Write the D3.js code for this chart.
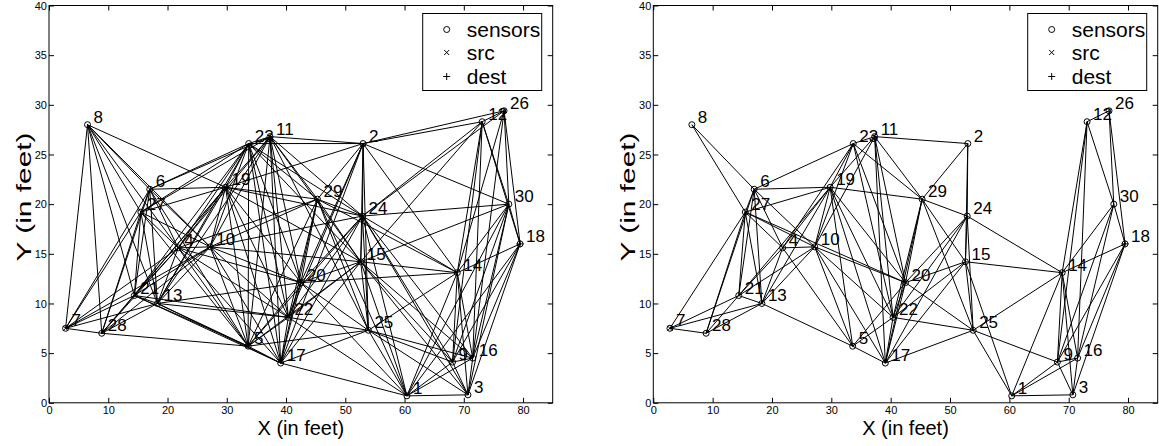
<!DOCTYPE html>
<html>
<head>
<meta charset="utf-8">
<script src="https://cdn.jsdelivr.net/npm/d3@7"></script>
<style>
  body { margin: 0; background: #fff; }
  text { font-family: "Liberation Sans", Arial, sans-serif; }
</style>
</head>
<body>
<svg width="1159" height="446"></svg>
<script>
const nodeIds = d3.range(1, 31);
const nodeX = [60.4, 53.0, 70.7, 21.8, 33.6, 17.0, 2.8, 6.5, 68.1, 27.2,
               37.3, 73.1, 18.3, 68.9, 52.6, 71.5, 39.1, 79.5, 29.8, 42.5,
               14.4, 40.4, 33.7, 52.9, 53.9, 76.8, 15.5, 8.9, 45.3, 77.6];
const nodeY = [0.7, 26.1, 0.8, 15.6, 5.7, 21.5, 7.5, 28.0, 4.1, 15.7,
               26.8, 28.3, 10.0, 13.1, 14.2, 4.5, 4.0, 16.0, 21.7, 12.1,
               10.8, 8.6, 26.1, 18.8, 7.3, 29.4, 19.2, 7.0, 20.5, 20.0];
const xTicks = [0, 10, 20, 30, 40, 50, 60, 70, 80];
const yTicks = [0, 5, 10, 15, 20, 25, 30, 35, 40];
const legendLabels = ['sensors', 'src', 'dest'];
const srcNode = 7;
const destNode = 18;

// links (dense graph)
const edgesLeft = [
  [1,3],[1,9],[1,14],[1,15],[1,16],[1,17],[1,18],[1,20],[1,22],[1,24],[1,25],[1,29],[1,30],
  [2,11],[2,12],[2,14],[2,15],[2,17],[2,19],[2,20],[2,22],[2,23],[2,24],[2,25],[2,26],[2,29],[2,30],
  [3,9],[3,14],[3,15],[3,16],[3,18],[3,24],[3,25],[3,30],
  [4,5],[4,6],[4,7],[4,8],[4,10],[4,11],[4,13],[4,17],[4,19],[4,20],[4,21],[4,22],[4,23],[4,27],[4,28],[4,29],
  [5,6],[5,10],[5,11],[5,13],[5,15],[5,17],[5,19],[5,20],[5,21],[5,22],[5,23],[5,24],[5,25],[5,27],[5,28],[5,29],
  [6,7],[6,8],[6,10],[6,11],[6,13],[6,19],[6,21],[6,23],[6,27],[6,28],
  [7,8],[7,10],[7,13],[7,21],[7,27],[7,28],
  [8,10],[8,13],[8,19],[8,21],[8,27],[8,28],
  [9,12],[9,14],[9,15],[9,16],[9,18],[9,24],[9,25],[9,30],
  [10,11],[10,13],[10,15],[10,17],[10,19],[10,20],[10,21],[10,22],[10,23],[10,24],[10,27],[10,28],[10,29],
  [11,13],[11,15],[11,17],[11,19],[11,20],[11,22],[11,23],[11,24],[11,25],[11,27],[11,29],
  [12,14],[12,15],[12,16],[12,18],[12,24],[12,26],[12,30],
  [13,17],[13,19],[13,20],[13,21],[13,22],[13,23],[13,27],[13,28],
  [14,15],[14,16],[14,18],[14,20],[14,24],[14,25],[14,26],[14,29],[14,30],
  [15,16],[15,17],[15,19],[15,20],[15,22],[15,23],[15,24],[15,25],[15,29],[15,30],
  [16,18],[16,24],[16,25],[16,26],[16,30],
  [17,19],[17,20],[17,21],[17,22],[17,23],[17,24],[17,25],[17,29],
  [18,26],[18,30],
  [19,20],[19,21],[19,22],[19,23],[19,24],[19,27],[19,28],[19,29],
  [20,22],[20,23],[20,24],[20,25],[20,29],
  [21,22],[21,23],[21,27],[21,28],
  [22,23],[22,24],[22,25],[22,29],
  [23,24],[23,27],[23,29],
  [24,25],[24,26],[24,29],[24,30],
  [25,29],[26,30],[27,28]
];

// links (sparser graph)
const edgesRight = [
  [8,6],[8,27],
  [6,27],[6,23],[6,19],[6,4],[6,10],[6,21],[6,13],[6,28],
  [27,19],[27,21],[27,13],[27,28],[27,7],[27,4],[27,10],[27,20],
  [7,28],[7,21],[7,13],
  [28,21],[28,13],
  [21,13],[21,4],[21,10],[21,19],
  [13,4],[13,10],[13,5],[13,19],
  [4,10],[4,19],[4,5],[4,23],
  [10,19],[10,23],[10,11],[10,5],[10,17],[10,22],[10,20],
  [19,23],[19,11],[19,29],[19,5],[19,22],[19,20],[19,17],
  [23,11],[23,29],[23,20],[23,22],
  [11,2],[11,29],[11,20],[11,22],[11,17],
  [2,29],[2,24],[2,15],
  [29,24],[29,20],[29,22],[29,17],[29,15],[29,25],
  [24,15],[24,25],[24,20],[24,22],[24,17],[24,14],
  [15,25],[15,20],[15,22],[15,17],[15,1],[15,14],
  [20,22],[20,17],[20,5],[20,25],
  [22,17],[22,5],[22,25],
  [17,5],[17,25],
  [25,1],[25,9],[25,14],
  [14,1],[14,9],[14,16],[14,3],[14,18],[14,30],[14,12],
  [1,3],[1,9],[1,16],
  [9,16],[9,3],[16,3],
  [12,26],[12,30],[12,9],[12,16],
  [26,30],[26,18],
  [30,18],[30,9],[30,16],
  [18,9],[18,16],[18,3]
];

const svg = d3.select('svg');
const yScale = d3.scaleLinear().domain([0, 40]).range([402.8, 5.5]);

function drawPanel(left, right, edges) {
  const x = d3.scaleLinear().domain([0, 85]).range([left, right]);
  const g = svg.append('g');

  // ticks point inward on all four sides
  g.append('g').attr('transform', `translate(0, ${yScale(0)})`)
    .call(d3.axisBottom(x).tickValues(xTicks).tickSize(-5).tickSizeOuter(0).tickPadding(3))
    .call(a => a.select('.domain').remove())
    .call(a => a.selectAll('text').attr('font-size', 11).attr('font-family', 'Liberation Sans, Arial'));
  g.append('g').attr('transform', `translate(0, ${yScale(40)})`)
    .call(d3.axisTop(x).tickValues(xTicks).tickSize(-5).tickSizeOuter(0).tickFormat(''))
    .call(a => a.select('.domain').remove());
  g.append('g').attr('transform', `translate(${left}, 0)`)
    .call(d3.axisLeft(yScale).tickValues(yTicks).tickSize(-5).tickSizeOuter(0).tickPadding(2))
    .call(a => a.select('.domain').remove())
    .call(a => a.selectAll('text').attr('font-size', 11).attr('font-family', 'Liberation Sans, Arial'));
  g.append('g').attr('transform', `translate(${right}, 0)`)
    .call(d3.axisRight(yScale).tickValues(yTicks).tickSize(-5).tickSizeOuter(0).tickFormat(''))
    .call(a => a.select('.domain').remove());

  g.append('rect')
    .attr('x', left).attr('y', yScale(40))
    .attr('width', right - left).attr('height', yScale(0) - yScale(40))
    .attr('fill', 'none').attr('stroke', '#000');

  g.append('g').selectAll('line').data(edges).join('line')
    .attr('x1', d => x(nodeX[d[0] - 1])).attr('y1', d => yScale(nodeY[d[0] - 1]))
    .attr('x2', d => x(nodeX[d[1] - 1])).attr('y2', d => yScale(nodeY[d[1] - 1]))
    .attr('stroke', '#000').attr('stroke-width', 1);

  g.append('g').selectAll('circle').data(nodeIds).join('circle')
    .attr('cx', d => x(nodeX[d - 1])).attr('cy', d => yScale(nodeY[d - 1]))
    .attr('r', 3).attr('fill', 'none').attr('stroke', '#000');

  // src / dest marks
  const sx = x(nodeX[srcNode - 1]), sy = yScale(nodeY[srcNode - 1]);
  g.append('path').attr('d', `M${sx - 2.5},${sy - 2.5}L${sx + 2.5},${sy + 2.5}M${sx + 2.5},${sy - 2.5}L${sx - 2.5},${sy + 2.5}`)
    .attr('stroke', '#000');
  const dx = x(nodeX[destNode - 1]), dy = yScale(nodeY[destNode - 1]);
  g.append('path').attr('d', `M${dx - 3.5},${dy}H${dx + 3.5}M${dx},${dy - 3.5}V${dy + 3.5}`)
    .attr('stroke', '#000');

  g.append('g').selectAll('text').data(nodeIds).join('text')
    .attr('x', d => x(nodeX[d - 1]) + 6).attr('y', d => yScale(nodeY[d - 1]) - 2)
    .attr('font-size', 17).text(d => d);

  // legend
  const lx = right - 130, ly = yScale(40) + 8;
  const lg = g.append('g').attr('transform', `translate(${lx}, ${ly})`);
  lg.append('rect').attr('width', 119).attr('height', 77)
    .attr('fill', '#fff').attr('stroke', '#000');
  const rowY = [16, 39, 63];
  lg.selectAll('text').data(legendLabels).join('text')
    .attr('x', 44).attr('y', (d, i) => rowY[i] + 7)
    .attr('font-size', 21).text(d => d);
  lg.append('circle').attr('cx', 24).attr('cy', rowY[0]).attr('r', 3)
    .attr('fill', 'none').attr('stroke', '#000');
  lg.append('path').attr('d', `M21.5,${rowY[1] - 2.5}L26.5,${rowY[1] + 2.5}M26.5,${rowY[1] - 2.5}L21.5,${rowY[1] + 2.5}`)
    .attr('stroke', '#000');
  lg.append('path').attr('d', `M20.5,${rowY[2]}H27.5M24,${rowY[2] - 3.5}V${rowY[2] + 3.5}`)
    .attr('stroke', '#000');

  g.append('text').attr('x', (left + right) / 2).attr('y', 435)
    .attr('text-anchor', 'middle').attr('font-size', 20).text('X (in feet)');
  g.append('text')
    .attr('transform', `translate(${left - 18}, 197) rotate(-90) scale(1.3, 0.85)`)
    .attr('text-anchor', 'middle').attr('font-size', 23).text('Y (in feet)');
}

drawPanel(49, 552.7, edgesLeft);
drawPanel(653.3, 1157.7, edgesRight);
</script>
</body>
</html>
